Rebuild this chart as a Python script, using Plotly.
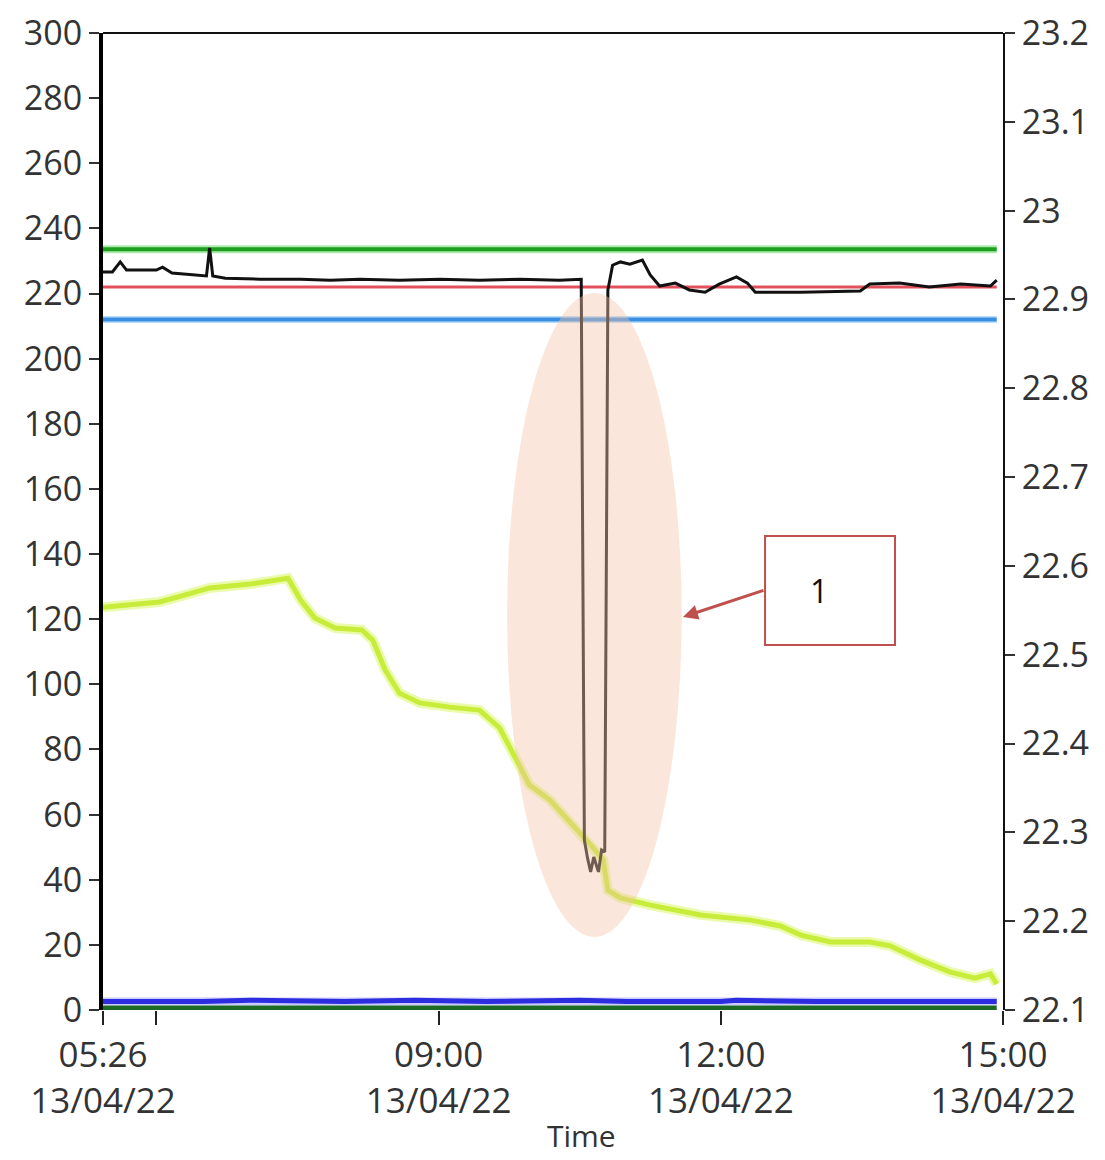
import plotly.graph_objects as go

# ---------------- data ----------------
black_t = ["05:26","05:32","05:37","05:41","06:00","06:04","06:10","06:28","06:32","06:34","06:36","06:44",
           "07:06","07:32","07:51","08:10","08:35","09:01","09:26","09:52","10:17","10:31","10:33","10:35",
           "10:37","10:39","10:42","10:44","10:46","10:48","10:51","10:56","11:02","11:10","11:15","11:21",
           "11:31","11:40","11:50","11:59","12:10","12:17","12:22","12:51","13:29","13:35","13:54","14:13",
           "14:33","14:52","14:56"]
black_v = [226.6,226.6,229.7,227.2,227.2,228.1,226.3,225.4,225.4,234.0,225.4,224.7,
           224.4,224.4,224.1,224.4,224.1,224.4,224.1,224.4,224.1,224.4,52.2,46.7,
           42.4,47.0,42.4,49.1,48.5,221.1,228.7,229.7,229.0,230.3,225.7,222.3,
           223.2,221.1,220.4,222.9,225.1,223.2,220.4,220.4,220.8,222.9,223.2,222.0,
           222.9,222.3,224.1]

yg_t = ["05:26","05:43","06:02","06:18","06:34","07:00","07:19","07:24","07:32","07:41","07:54","08:11",
        "08:18","08:26","08:35","08:48","09:07","09:26","09:39","09:49","09:58","10:11","10:24","10:37",
        "10:45","10:48","10:56","11:15","11:47","12:19","12:38","12:51","13:10","13:35","13:48","14:07",
        "14:26","14:42","14:52","14:56"]
yg_v = [123.7,124.3,125.3,127.4,129.6,130.8,132.0,132.6,125.9,120.4,117.3,116.7,
        113.6,104.4,97.3,94.3,93.0,92.1,86.6,77.4,69.1,64.5,57.7,50.7,
        46.1,36.8,34.4,32.2,29.2,27.6,25.8,23.0,20.9,20.9,19.7,15.4,
        11.7,9.8,11.1,8.0]

flat_t = ["05:26", "14:56"]
green_v = [233.6, 233.6]
red_v = [222.0, 222.0]
lblue_v = [212.0, 212.0]
dgreen_v = [0.6, 0.6]

dblue_t = ["05:26","06:30","07:00","08:00","08:45","09:30","10:30","11:00","12:00","12:10","13:00","14:56"]
dblue_v = [2.6, 2.6, 3.0, 2.6, 3.0, 2.6, 3.0, 2.6, 2.6, 3.0, 2.6, 2.6]

x_tick_times = ["05:26", "06:00", "09:00", "12:00", "15:00"]
x_tick_text = ["05:26<br>13/04/22", "", "09:00<br>13/04/22", "12:00<br>13/04/22", "15:00<br>13/04/22"]
left_ticks = list(range(0, 301, 20))
right_ticks = [22.1, 22.2, 22.3, 22.4, 22.5, 22.6, 22.7, 22.8, 22.9, 23.0, 23.1, 23.2]
right_tick_text = ["22.1", "22.2", "22.3", "22.4", "22.5", "22.6", "22.7", "22.8", "22.9", "23", "23.1", "23.2"]

DAY = "2022-04-13 "
def ts(lst):
    return [DAY + t for t in lst]

FONT = "Open Sans"
fig = go.Figure()

def line(x, y, color, width, yaxis="y"):
    fig.add_trace(go.Scatter(x=ts(x), y=y, mode="lines", line=dict(color=color, width=width),
                             showlegend=False, hoverinfo="skip", yaxis=yaxis))

# halos
line(flat_t, green_v, "rgba(120,220,120,0.6)", 8)
line(flat_t, lblue_v, "rgba(140,200,255,0.6)", 7)
line(yg_t, yg_v, "rgba(225,250,140,0.7)", 10)
line(dblue_t, dblue_v, "rgba(150,150,255,0.5)", 8)
# main lines
line(flat_t, green_v, "#1e9e1e", 4)
line(flat_t, red_v, "#e2505c", 3)
line(flat_t, lblue_v, "#3a8ee0", 4)
line(yg_t, yg_v, "#c8ec3a", 5)
line(flat_t, dgreen_v, "#1c6a24", 5)
line(dblue_t, dblue_v, "#2d2de0", 5)
line(black_t, black_v, "#111111", 3)
# invisible trace to bind right axis
fig.add_trace(go.Scatter(x=ts(flat_t), y=[right_ticks[0], right_ticks[0]], mode="lines",
                         line=dict(width=0), opacity=0, showlegend=False, hoverinfo="skip", yaxis="y2"))

# ellipse highlight
fig.add_shape(type="circle", xref="paper", yref="paper", x0=0.449, x1=0.643, y0=0.0747, y1=0.734,
              fillcolor="rgba(244,196,168,0.42)", line=dict(width=0), layer="above")
# top border
fig.add_shape(type="line", xref="paper", yref="paper", x0=0, x1=1, y0=1, y1=1,
              line=dict(color="#111", width=2))

# callout box
fig.add_shape(type="rect", xref="paper", yref="paper", x0=0.7356, x1=0.880, y0=0.3736, y1=0.4852,
              fillcolor="white", line=dict(color="#c0504d", width=2))
fig.add_annotation(xref="paper", yref="paper", x=0.808, y=0.429, text="1", showarrow=False,
                   font=dict(family=FONT, size=32, color="#111"))
fig.add_annotation(xref="paper", yref="paper", x=0.6444, y=0.4023, text="", showarrow=True,
                   ax=82, ay=-27, arrowcolor="#c0504d", arrowwidth=3, arrowhead=2, arrowsize=1)
# x axis title
fig.add_annotation(xref="paper", yref="paper", x=0.532, y=-0.128, text="Time", showarrow=False,
                   yanchor="middle", font=dict(family=FONT, size=30, color="#333"))

ytickfont = dict(family=FONT, size=34, color="#333")
xtickfont = dict(family=FONT, size=35, color="#333")
fig.update_layout(
    width=1105, height=1160,
    margin=dict(l=95, r=110, t=25, b=158),
    paper_bgcolor="white", plot_bgcolor="white",
    xaxis=dict(type="date", range=[DAY + "05:26", DAY + "15:00"],
               tickvals=ts(x_tick_times), ticktext=x_tick_text,
               ticks="outside", ticklen=14, tickwidth=2, tickcolor="#222",
               showgrid=False, zeroline=False, showline=False, automargin=False,
               tickfont=xtickfont),
    yaxis=dict(range=[0, 300], tickvals=left_ticks, ticks="outside", ticklen=10, tickwidth=2,
               tickcolor="#333", showgrid=False, zeroline=False, automargin=False,
               showline=True, linecolor="#000", linewidth=4, tickfont=ytickfont),
    yaxis2=dict(range=[22.1, 23.2], overlaying="y", side="right", tickvals=right_ticks,
                ticktext=right_tick_text, ticks="outside", ticklen=10, tickwidth=2, tickcolor="#333",
                showgrid=False, zeroline=False, showline=True, linecolor="#111", linewidth=2,
                automargin=False, tickfont=ytickfont),
)

fig.write_html("out.html")
